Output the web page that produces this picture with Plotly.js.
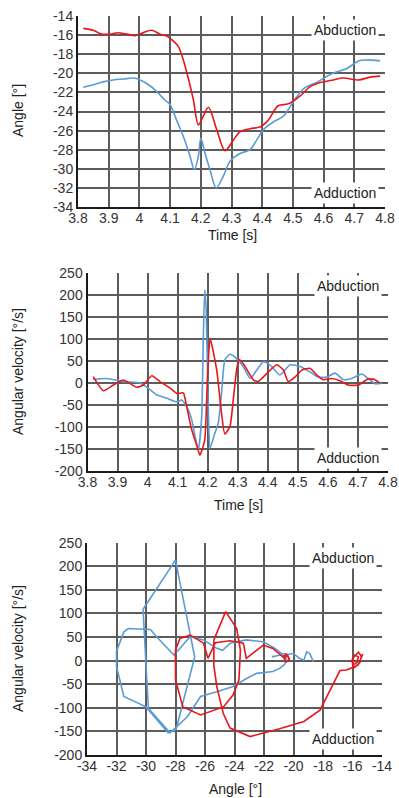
<!DOCTYPE html>
<html>
<head>
<meta charset="utf-8">
<script src="https://cdn.plot.ly/plotly-3.0.1.min.js"></script>
<style>html,body{margin:0;padding:0;background:#fff;}#chart{width:399px;height:798px;}</style>
</head>
<body>
<div id="chart"></div>
<script>
// ---------- Data ----------
// Panel 1: angle vs time
const timeAngleRed = [3.817,3.85,3.877,3.904,3.93,3.96,3.986,4.013,4.04,4.067,4.089,4.11,4.127,4.143,4.159,4.176,4.192,4.208,4.225,4.252,4.279,4.306,4.328,4.36,4.394,4.42,4.452,4.485,4.523,4.556,4.587,4.631,4.664,4.714,4.751,4.784];
const angleRed = [-15.3,-15.5,-15.9,-15.9,-15.75,-15.9,-16.06,-15.74,-15.5,-15.9,-16.1,-16.6,-17.2,-18.6,-20.5,-22.8,-25.4,-24.5,-23.56,-25.9,-28.1,-27.0,-26.1,-25.8,-25.6,-24.9,-23.4,-23.2,-22.4,-21.4,-21.0,-20.7,-20.5,-20.7,-20.4,-20.3];
const timeAngleBlue = [3.817,3.85,3.882,3.915,3.948,3.98,4.002,4.03,4.056,4.083,4.10,4.121,4.143,4.165,4.179,4.192,4.2,4.214,4.23,4.25,4.273,4.295,4.328,4.36,4.382,4.404,4.436,4.469,4.501,4.535,4.58,4.63,4.676,4.714,4.74,4.784];
const angleBlue = [-21.47,-21.2,-20.9,-20.7,-20.6,-20.5,-20.7,-21.2,-21.9,-22.8,-23.3,-24.9,-26.6,-28.7,-30.1,-28.7,-26.8,-28.4,-30.1,-32.0,-30.8,-29.2,-28.4,-28.0,-27.0,-25.9,-25.1,-24.5,-23.0,-21.6,-20.9,-20.0,-19.5,-18.7,-18.6,-18.7];

// Panel 2: angular velocity vs time
const timeVelRed = [3.819,3.853,3.886,3.919,3.964,3.986,4.014,4.041,4.075,4.097,4.119,4.13,4.147,4.163,4.174,4.19,4.199,4.208,4.23,4.246,4.257,4.274,4.285,4.296,4.304,4.318,4.352,4.368,4.402,4.43,4.452,4.468,4.49,4.513,4.54,4.563,4.585,4.613,4.64,4.668,4.701,4.734,4.757,4.773];
const velRed = [14,-18,-5,6.6,-10,-5,16,3,-12,-24,-23,-54,-107,-141,-164,-130,7,101,29,-69,-116,-99,-39,29,53,44,7,3,25,41,29,3,13,29,33,18,7,10,5,-5,-5,9,7,-1];
const timeVelBlue = [3.819,3.864,3.919,3.975,3.986,4.002,4.03,4.064,4.097,4.113,4.13,4.147,4.158,4.169,4.18,4.185,4.19,4.195,4.202,4.208,4.224,4.235,4.246,4.257,4.274,4.29,4.318,4.341,4.352,4.385,4.407,4.44,4.474,4.507,4.54,4.568,4.596,4.624,4.652,4.679,4.713,4.734,4.757,4.779];
const velBlue = [8,10,3,0,-5,-12,-27,-35,-43,-39,-54,-84,-122,-152,-77,90,211,165,-61,-148,-114,-92,-24,52,65,59,37,10,18,48,41,18,41,37,25,13,13,22,7,10,20,10,-2,-1];

// Panel 3: angular velocity vs angle (phase plot)
const phaseAngleRed = [-15.3,-15.6,-15.9,-16.05,-15.85,-15.6,-15.7,-16.0,-15.95,-15.6,-15.4,-15.5,-15.8,-16.1,-16.4,-16.85,-17.5,-18.2,-19.3,-21.0,-22.95,-24.3,-24.76,-25.2,-25.4,-25.4,-24.6,-23.85,-23.6,-23.7,-24.1,-24.75,-26.3,-27.5,-28.0,-28.0,-27.7,-27.0,-26.1,-25.8,-25.3,-24.3,-23.4,-23.2,-22.5,-22.05,-21.4,-20.9,-20.6,-20.4,-20.3,-20.5,-20.7,-20.5,-20.3,-20.3];
const phaseVelRed = [14,-8,-15,0,12,8,-4,-10,6,18,10,-4,-12,-16,-20,-21,-60,-105,-129,-145,-161,-143,-112,-55,-10,44,104,68,22,-41,-73,-98,-115,-98,-41,22,47,54,37,5,38,42,37,5,22,33,26,12,5,12,2,-3,8,14,5,-1];
const phaseAngleBlue = [-21.47,-21.2,-20.9,-20.6,-20.5,-20.6,-20.9,-21.4,-22.5,-23.3,-24.1,-25.2,-26.3,-27.2,-28.37,-29.84,-30.0,-30.2,-28.0,-26.7,-27.97,-28.5,-30.0,-31.5,-32.0,-32.0,-31.5,-31.2,-29.7,-29.3,-28.1,-27.0,-26.1,-25.2,-24.8,-24.3,-23.2,-22.05,-21.25,-20.8,-20.4,-20.0,-19.6,-19.3,-19.1,-18.9,-18.65];
const phaseVelBlue = [8,10,12,10,3,-8,-16,-23,-27,-40,-55,-66,-76,-119,-153,-101,0,109,213,8,-147,-153,-98,-76,-13,20,61,68,66,51,12,51,44,26,22,37,44,40,26,15,13,15,5,1,19,15,-2];

// Tick values
const ticksTime = [3.8,3.9,4,4.1,4.2,4.3,4.4,4.5,4.6,4.7,4.8];
const ticksAngle = [-34,-32,-30,-28,-26,-24,-22,-20,-18,-16,-14];
const ticksVel = [-200,-150,-100,-50,0,50,100,150,200,250];

// ---------- Styling ----------
const W = 399, H = 798;
const fx = p => p / W;
const fy = p => 1 - p / H;
const RED = '#e8161b', BLUE = '#5b9bd5';
const FONT = 'Liberation Sans, Arial, sans-serif';

function axis(extra) {
  return Object.assign({
    showline: true, linecolor: '#1a1a1a', linewidth: 2,
    showgrid: true, gridcolor: '#5c5c5c', gridwidth: 2,
    zeroline: false, ticks: '', ticklen: 0, fixedrange: true,
    tickfont: {family: FONT, size: 14, color: '#333'},
    tickmode: 'array', automargin: false
  }, extra);
}
const lbl = v => String(v);

const traces = [
  {x: timeAngleBlue, y: angleBlue, xaxis: 'x', yaxis: 'y', mode: 'lines', line: {color: BLUE, width: 1.6, shape: 'spline', smoothing: 0.9}},
  {x: timeAngleRed, y: angleRed, xaxis: 'x', yaxis: 'y', mode: 'lines', line: {color: RED, width: 1.6, shape: 'spline', smoothing: 0.9}},
  {x: timeVelBlue, y: velBlue, xaxis: 'x2', yaxis: 'y2', mode: 'lines', line: {color: BLUE, width: 1.6, shape: 'spline', smoothing: 0.5}},
  {x: timeVelRed, y: velRed, xaxis: 'x2', yaxis: 'y2', mode: 'lines', line: {color: RED, width: 1.6, shape: 'spline', smoothing: 0.5}},
  {x: phaseAngleBlue, y: phaseVelBlue, xaxis: 'x3', yaxis: 'y3', mode: 'lines', line: {color: BLUE, width: 1.6}},
  {x: phaseAngleRed, y: phaseVelRed, xaxis: 'x3', yaxis: 'y3', mode: 'lines', line: {color: RED, width: 1.6}}
];

function txt(text, x, y, opts) {
  return Object.assign({text: text, x: fx(x), y: fy(y), xref: 'paper', yref: 'paper',
    showarrow: false, xanchor: 'center', yanchor: 'middle',
    font: {family: FONT, size: 14, color: '#222'}}, opts || {});
}
const boxed = {bgcolor: '#ffffff', borderpad: 2};

const xtick = {ticklabelstandoff: -3};

const layout = {
  width: W, height: H,
  margin: {l: 0, r: 0, t: 0, b: 0},
  paper_bgcolor: '#ffffff', plot_bgcolor: '#ffffff',
  showlegend: false,
  xaxis: axis(Object.assign({domain: [fx(78), fx(385)], range: [3.8, 4.8], tickvals: ticksTime, ticktext: ticksTime.map(lbl), anchor: 'y'}, xtick)),
  yaxis: axis({domain: [fy(207), fy(16)], range: [-34, -14], tickvals: ticksAngle, ticktext: ticksAngle.map(lbl), anchor: 'x'}),
  xaxis2: axis(Object.assign({domain: [fx(87.5), fx(388)], range: [3.8, 4.8], tickvals: ticksTime, ticktext: ticksTime.map(lbl), anchor: 'y2'}, xtick)),
  yaxis2: axis({domain: [fy(471), fy(272.7)], range: [-200, 250], tickvals: ticksVel, ticktext: ticksVel.map(lbl), anchor: 'x2'}),
  xaxis3: axis(Object.assign({domain: [fx(87), fx(382)], range: [-34, -14], tickvals: ticksAngle, ticktext: ticksAngle.map(lbl), anchor: 'y3'}, xtick)),
  yaxis3: axis({domain: [fy(755), fy(542.7)], range: [-200, 250], tickvals: ticksVel, ticktext: ticksVel.map(lbl), anchor: 'x3'}),
  annotations: [
    // clipped figure title (only descenders visible in the reference)
    txt('<b>Body and hip</b>', 133, 3, {xanchor: 'left', yanchor: 'bottom', font: {family: 'Liberation Serif, Times New Roman, serif', size: 26, color: '#000'}}),
    // panel 1
    txt('Abduction', 345, 30, boxed),
    txt('Adduction', 345, 193, boxed),
    txt('Time [s]', 232, 235),
    txt('Angle [°]', 18, 111, {textangle: -90}),
    // panel 2
    txt('Abduction', 347.5, 286, boxed),
    txt('Adduction', 347.5, 458, boxed),
    txt('Time [s]', 238, 505),
    txt('Angular velocity [°/s]', 18, 372, {textangle: -90}),
    // panel 3
    txt('Abduction', 342.5, 557.5, boxed),
    txt('Adduction', 342.5, 739, boxed),
    txt('Angle [°]', 235, 789),
    txt('Angular velocity [°/s]', 18, 649, {textangle: -90})
  ]
};

Plotly.newPlot('chart', traces, layout, {displayModeBar: false, staticPlot: true});
</script>
</body>
</html>
